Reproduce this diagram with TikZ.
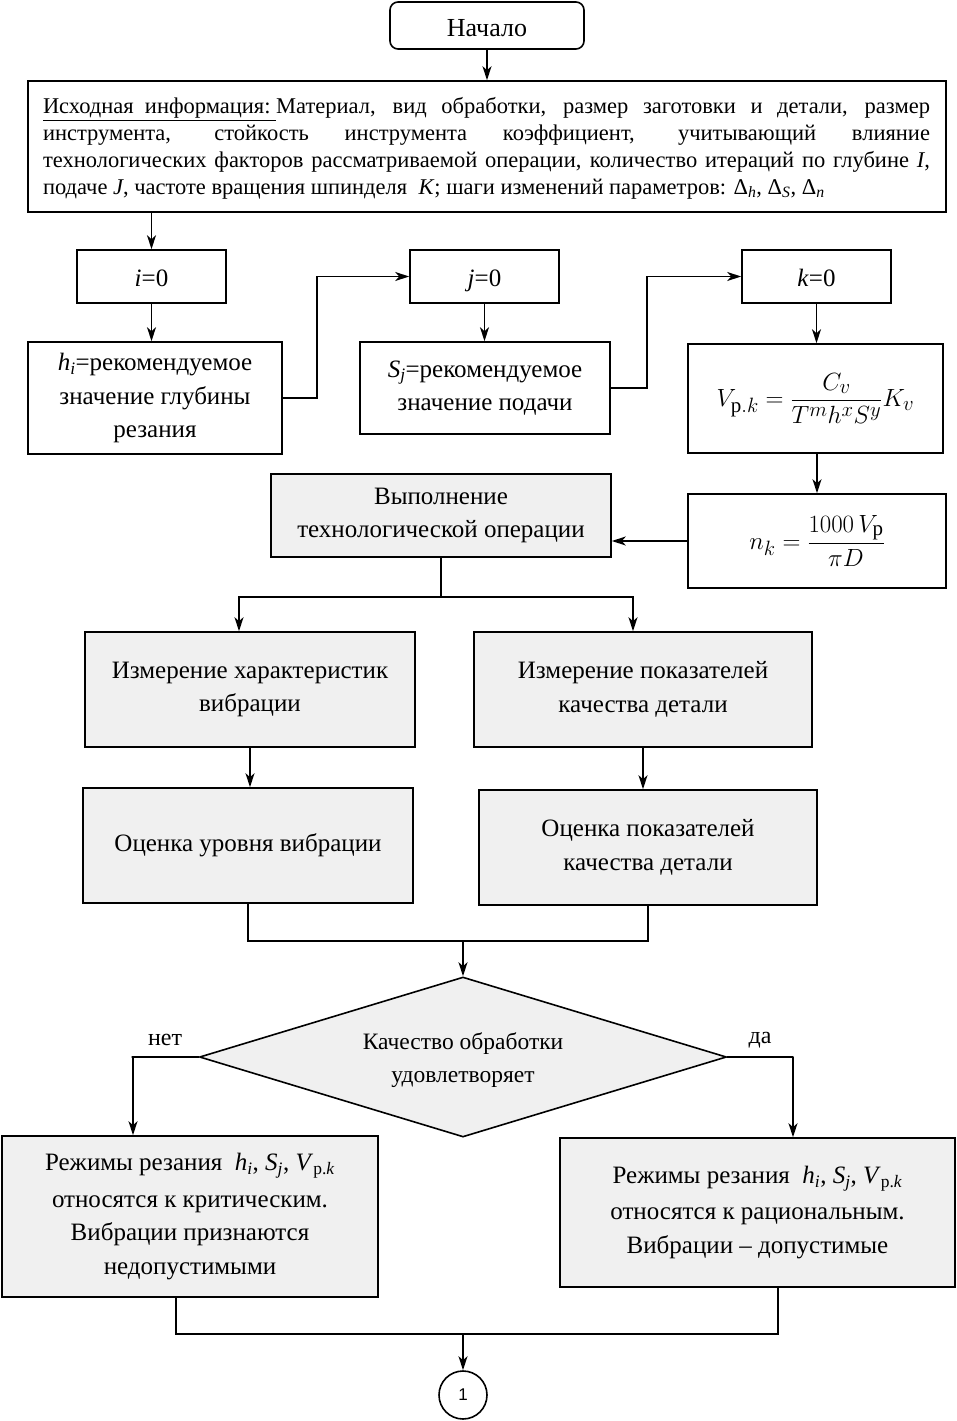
\documentclass[tikz,border=0pt]{standalone}
\usepackage{amsmath}
\usepackage{fontspec}
\setmainfont{Liberation Serif}
\newfontfamily\sansf{Liberation Sans}
\usetikzlibrary{arrows.meta,shapes.geometric}
\newcommand\ti[1]{\textit{#1}}
\newcommand\hsub{\ti{h}\textsubscript{\ti{i}}}
\newcommand\ssub{\ti{S}\textsubscript{\ti{j}}}
\newcommand\vsub{\ti{V}\textsubscript{р.\ti{k}}}
\begin{document}
\begin{tikzpicture}[x=1pt,y=-1pt,
  box/.style={draw, line width=1.6pt, inner sep=0pt, align=center, font=\fontsize{25}{33.5}\selectfont},
  gbox/.style={box, fill=black!6},
  oneline/.style={text height=22pt, text depth=3pt},
  arr/.style={-{Stealth[length=14pt,width=9pt,inset=4pt]}, line width=1.6pt},
  ln/.style={line width=1.6pt},
  lab/.style={font=\fontsize{24}{26}\selectfont}]
\useasboundingbox (0,0) rectangle (956,1421);

\node[box, text height=26pt, text depth=3pt, rounded corners=8pt, minimum width=194, minimum height=47, font=\fontsize{26}{30}\selectfont] (start) at (487,25.5) {Начало};
\node[box, minimum width=918, minimum height=131] (info) at (487,146.5) {};
\node[text width=887pt, align=justify, inner sep=0pt, font=\fontsize{22.5}{27}\selectfont] (infot) at (486.5,148)
 {\underline{Исходная\ \ информация:\ }Материал, вид обработки, размер заготовки и детали, размер\linebreak инструмента, стойкость инструмента коэффициент, учитывающий влияние\linebreak технологических факторов рассматриваемой операции, количество итераций по глубине~\ti{I},\linebreak подаче~\ti{J}, частоте вращения шпинделя~~\ti{K}; шаги изменений параметров: Δ\textsubscript{\ti{h}}, Δ\textsubscript{\ti{S}}, Δ\textsubscript{\ti{n}}};

\node[box, oneline, minimum width=149, minimum height=53] (i0) at (151.5,276.5) {\ti{i}=0};
\node[box, minimum width=254, minimum height=112] (h) at (155,398) {\hsub=рекомендуемое\\значение глубины\\резания};
\node[box, oneline, minimum width=149, minimum height=53] (j0) at (484.5,276.5) {\ti{j}=0};
\node[box, minimum width=250, minimum height=92] (S) at (485,388) {\ssub=рекомендуемое\\значение подачи};
\node[box, oneline, minimum width=149, minimum height=53] (k0) at (816.5,276.5) {\ti{k}=0};
\node[box, minimum width=255, minimum height=109, font=\fontsize{30}{34}\selectfont] (V) at (815.5,398.5) {$V_{\text{р}.k}=\dfrac{C_v}{T^m h^x S^y}K_v$};
\node[box, minimum width=258, minimum height=94, font=\fontsize{30}{34}\selectfont] (n) at (817,541) {$n_k=\dfrac{1000\,V_{\text{р}}}{\pi D}$};
\node[gbox, minimum width=340, minimum height=83] (vyp) at (441,515.5) {Выполнение\\технологической операции};
\node[gbox, minimum width=330, minimum height=115] (m1) at (250,689.5) {Измерение характеристик\\вибрации};
\node[gbox, minimum width=338, minimum height=115] (m2) at (643,689.5) {Измерение показателей\\качества детали};
\node[gbox, minimum width=330, minimum height=115] (o1) at (248,845.5) {Оценка уровня вибрации};
\node[gbox, minimum width=338, minimum height=115] (o2) at (648,847.5) {Оценка показателей\\качества детали};
\node[draw, line width=1.6pt, diamond, fill=black!6, minimum width=527, minimum height=160, inner sep=0pt] (d) at (463,1057) {};
\node[align=center, font=\fontsize{23.5}{33.5}\selectfont] (dt) at (463,1060) {Качество обработки\\удовлетворяет};
\node[gbox, minimum width=376, minimum height=161] (L) at (190,1216.5) {Режимы резания\ \ \hsub, \ssub, \vsub\\[3pt]относятся к критическим.\\Вибрации признаются\\недопустимыми};
\node[gbox, minimum width=395, minimum height=149] (R) at (757.5,1212.5) {Режимы резания\ \ \hsub, \ssub, \vsub\\[3pt]относятся к рациональным.\\Вибрации – допустимые};
\node[draw, circle, line width=1.6pt, minimum size=48, inner sep=0pt, font=\sansf\fontsize{17}{20}\selectfont] (c) at (463,1395) {1};

\node[lab] (no) at (165,1040) {нет};
\node[lab] (yes) at (760,1040) {да};

\draw[arr] (start.south) -- (info.north -| start.south);
\draw[arr] (info.south -| i0.north) -- (i0.north);
\draw[arr] (i0.south) -- (h.north -| i0.south);
\draw[arr] (h.east) -- ++(34,0) |- (j0.west);
\draw[arr] (j0.south) -- (S.north -| j0.south);
\draw[arr] (S.east) -- ++(36,0) |- (k0.west);
\draw[arr] (k0.south) -- (V.north -| k0.south);
\draw[arr] (V.south -| n.north) -- (n.north);
\draw[arr] (n.west) -- (vyp.east |- n.west);
\draw[ln] (vyp.south) -- ++(0,39) coordinate (sp);
\draw[arr] (sp) -| ([xshift=-11pt]m1.north);
\draw[arr] (sp) -| ([xshift=-10pt]m2.north);
\draw[arr] (m1.south) -- (o1.north -| m1.south);
\draw[arr] (m2.south) -- (o2.north -| m2.south);
\draw[ln] (o1.south) -- ++(0,37) coordinate (ob) -| (o2.south);
\draw[arr] (ob -| d.north) -- (d.north);
\draw[arr] (d.west) -- ++(-67,0) -| ([xshift=-57pt]L.north);
\draw[arr] (d.east) -- ++(66,0) -| ([xshift=35.5pt]R.north);
\draw[ln] ([xshift=-14pt]L.south) -- ++(0,36) coordinate (lb) -| ([xshift=20.5pt]R.south);
\draw[arr] (lb -| c.north) -- (c.north);
\end{tikzpicture}
\end{document}
